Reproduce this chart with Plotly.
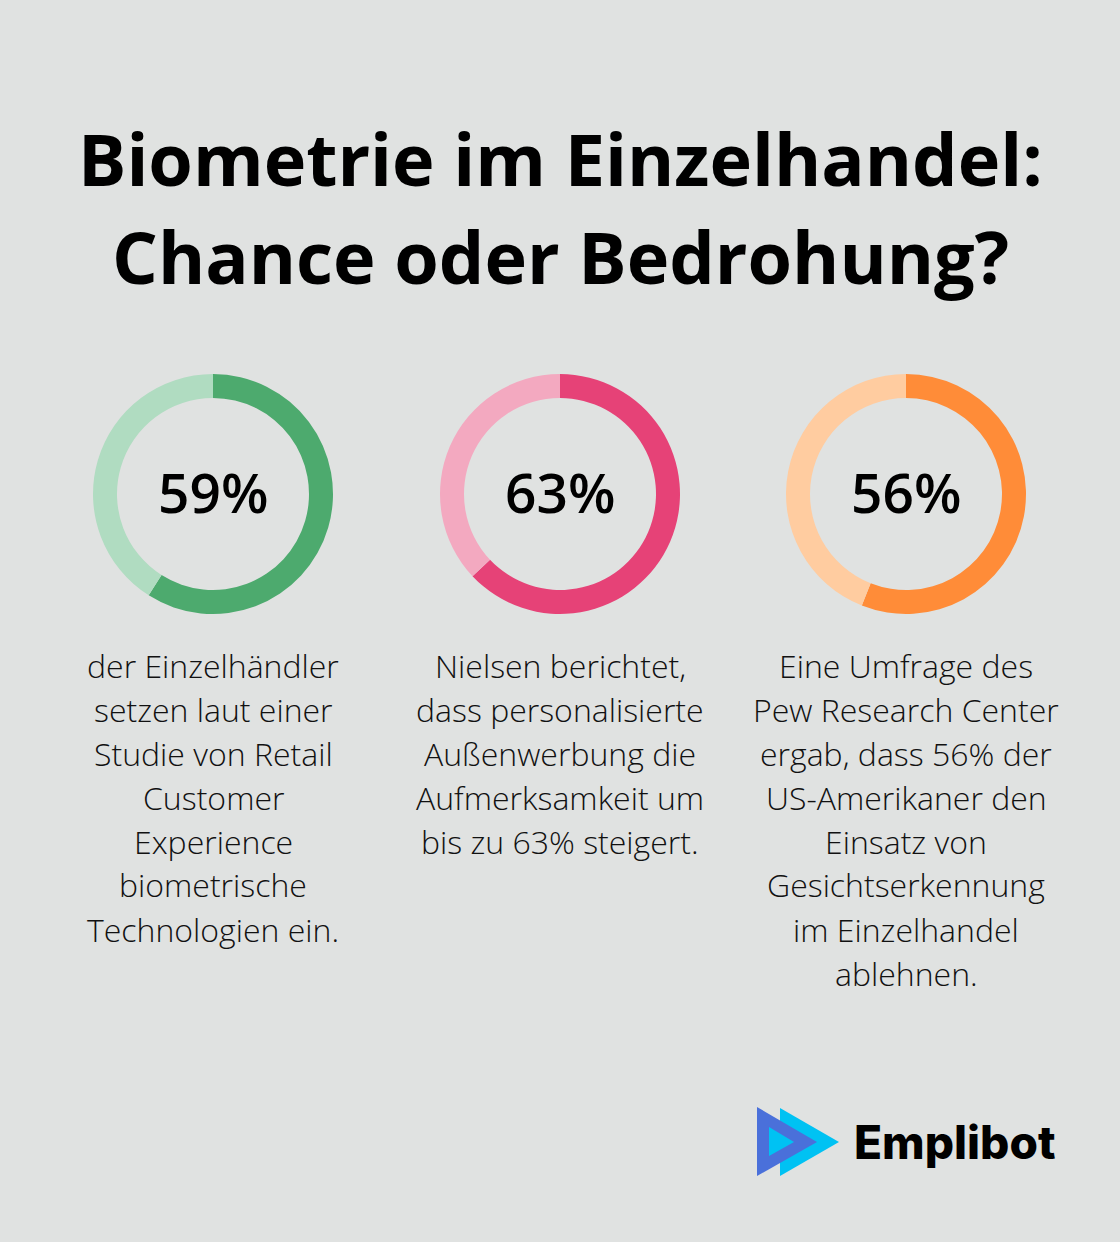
import plotly.graph_objects as go

W, H = 1120, 1242

title_lines = ["Biometrie im Einzelhandel:", "Chance oder Bedrohung?"]
percents = [59, 63, 56]
labels = ["59%", "63%", "56%"]
dark_colors = ["#4DAA6E", "#E64277", "#FF8C38"]
light_colors = ["#B0DCC1", "#F3A9C0", "#FFCCA0"]
descriptions = [
    ["der Einzelhändler", "setzen laut einer", "Studie von Retail", "Customer",
     "Experience", "biometrische", "Technologien ein."],
    ["Nielsen berichtet,", "dass personalisierte", "Außenwerbung die",
     "Aufmerksamkeit um", "bis zu 63% steigert."],
    ["Eine Umfrage des", "Pew Research Center", "ergab, dass 56% der",
     "US-Amerikaner den", "Einsatz von", "Gesichtserkennung",
     "im Einzelhandel", "ablehnen."],
]
brand = "Emplibot"

centers_x = [213, 560, 906]
center_y = 494
R = 120

fig = go.Figure()

def px(x):
    return x / W

def py(y):
    return 1 - y / H

for i, p in enumerate(percents):
    cx = centers_x[i]
    fig.add_trace(go.Pie(
        values=[p, 100 - p],
        marker=dict(colors=[dark_colors[i], light_colors[i]], line=dict(width=0)),
        hole=0.8,
        sort=False,
        direction="clockwise",
        rotation=0,
        textinfo="none",
        hoverinfo="skip",
        showlegend=False,
        domain=dict(x=[px(cx - R), px(cx + R)], y=[py(center_y + R), py(center_y - R)]),
    ))

annotations = []
title_y = [158, 256]
for t, y in zip(title_lines, title_y):
    annotations.append(dict(
        text=t, x=0.5, y=py(y), xref="paper", yref="paper",
        xanchor="center", yanchor="middle", showarrow=False,
        font=dict(family="Open Sans", size=72, color="#000000", weight=700),
    ))

for i, lab in enumerate(labels):
    annotations.append(dict(
        text=lab, x=px(centers_x[i]), y=py(center_y - 3), xref="paper", yref="paper",
        xanchor="center", yanchor="middle", showarrow=False,
        font=dict(family="Open Sans", size=55, color="#000000", weight=600),
    ))

for i, lines in enumerate(descriptions):
    for j, line in enumerate(lines):
        annotations.append(dict(
            text=line, x=px(centers_x[i]), y=py(665 + 44 * j), xref="paper", yref="paper",
            xanchor="center", yanchor="middle", showarrow=False,
            font=dict(family="Open Sans", size=32, color="#111111", weight=300),
        ))

annotations.append(dict(
    text=brand, x=px(852), y=py(1142), xref="paper", yref="paper",
    xanchor="left", yanchor="middle", showarrow=False,
    font=dict(family="Inter", size=46, color="#000000", weight=800),
))

def tri(pts):
    return "M " + " L ".join(f"{px(x)},{py(y)}" for x, y in pts) + " Z"

shapes = [
    dict(type="path", xref="paper", yref="paper", path=tri([(780, 1108), (780, 1176), (839, 1142)]),
         fillcolor="#00C2F3", line=dict(width=0)),
    dict(type="path", xref="paper", yref="paper", path=tri([(757, 1107), (757, 1176), (817, 1142)]),
         fillcolor="#4A70DA", line=dict(width=0)),
    dict(type="path", xref="paper", yref="paper", path=tri([(769, 1127), (769, 1156), (794, 1142)]),
         fillcolor="#00C2F3", line=dict(width=0)),
]

fig.update_layout(
    width=W, height=H,
    margin=dict(l=0, r=0, t=0, b=0),
    paper_bgcolor="#E0E2E1",
    plot_bgcolor="#E0E2E1",
    annotations=annotations,
    shapes=shapes,
    xaxis=dict(visible=False), yaxis=dict(visible=False),
)

fig.write_html(
    "out.html",
    config={"displayModeBar": False},
    post_script="document.body.style.margin='0';document.body.style.background='#E0E2E1';",
)
